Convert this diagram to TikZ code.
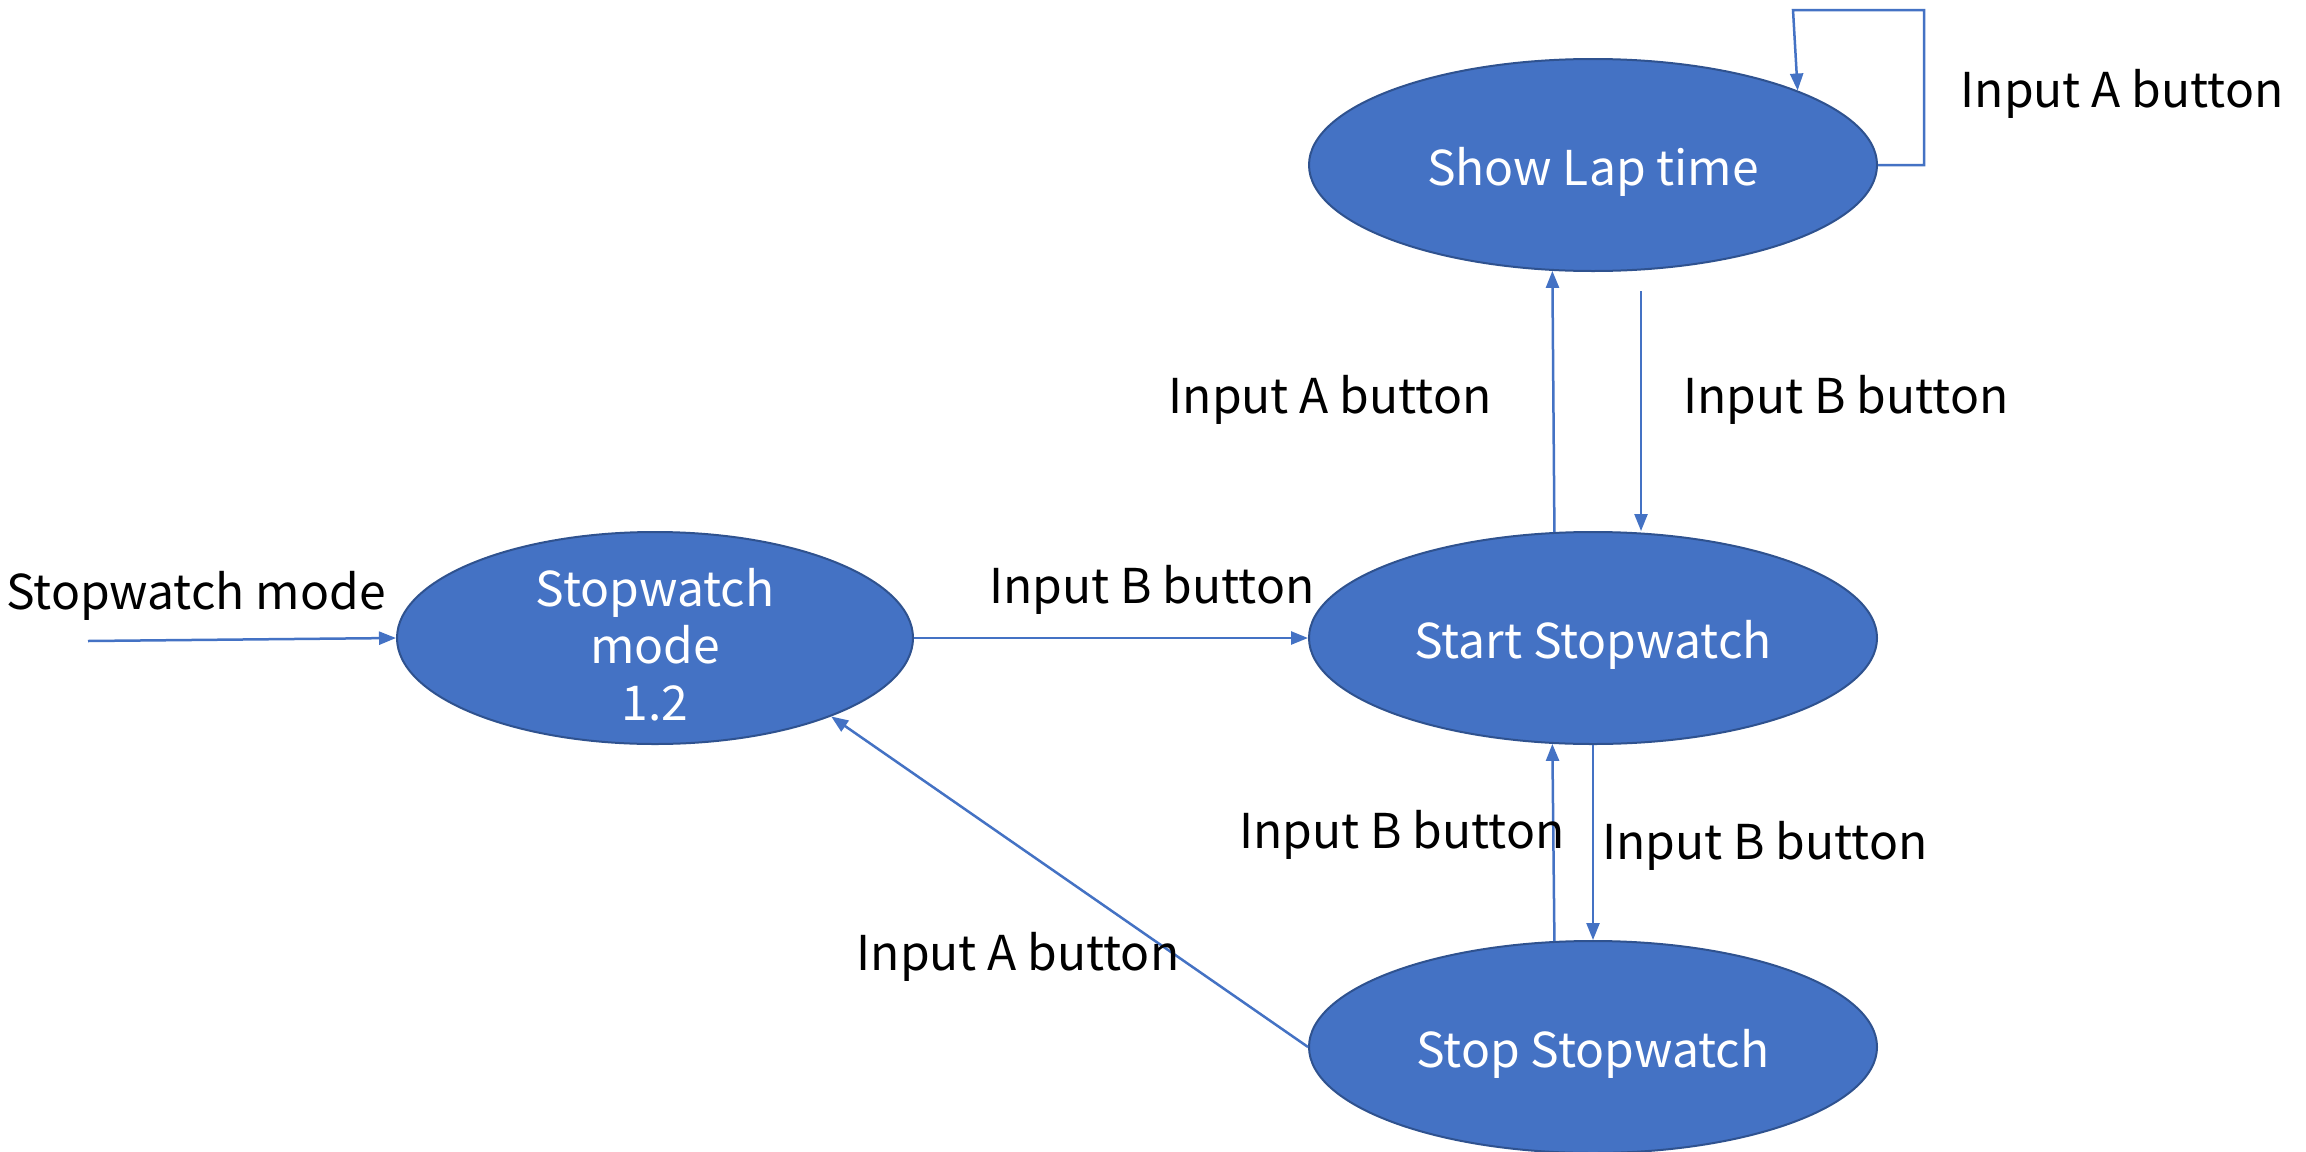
\documentclass[tikz,border=0pt]{standalone}
\usepackage{fontspec}
\setmainfont{Noto Sans CJK KR}
\usetikzlibrary{arrows.meta,shapes.geometric}
\definecolor{fillblue}{HTML}{4472C4}
\definecolor{edgeblue}{HTML}{2F528F}
\tikzset{
  state/.style={ellipse, fill=fillblue, draw=edgeblue, line width=2pt, inner sep=0pt,
                minimum width=568pt, minimum height=212pt},
  statetext/.style={text=white, font=\fontsize{48}{57}\selectfont, align=center, inner sep=0pt},
  lbl/.style={text=black, font=\fontsize{48}{57}\selectfont, inner sep=0pt},
  arr/.style={draw=fillblue, line width=2.5pt, -{Triangle[length=17pt,width=13pt]}},
  plain/.style={draw=fillblue, line width=2.5pt}
}
\begin{document}
\begin{tikzpicture}[x=1pt,y=-1pt]
\useasboundingbox (0,0) rectangle (2306,1151);
\fill[white] (0,0) rectangle (2306,1151);

% states
\node[state] (show) at (1593,165) {};
\node[statetext] (showt) at (1593,172) {Show Lap time};
\node[state] (start) at (1593,638) {};
\node[statetext] (startt) at (1593,645) {Start Stopwatch};
\node[state] (stop) at (1593,1047) {};
\node[statetext] (stopt) at (1593,1054) {Stop Stopwatch};
\node[state, minimum width=516pt] (mode) at (655,638) {};
\node[statetext] (modet) at (655,645) {Stopwatch\\mode\\1.2};

% coordinates for free ends
\coordinate (init) at (88,641);
\coordinate (bs) at (1641,291);
\coordinate (lr) at (1924,10);
\coordinate (ll) at (1793,10);

% connectors
\draw[arr] (init) -- (mode.west);
\draw[arr] (mode.east) -- (start.west);
\draw[arr] (start.110.9) -- (show.249.1);
\draw[arr] (bs) -- (start.north -| bs);
\draw[arr] (stop.110.9) -- (start.249.1);
\draw[arr] (start.south) -- (stop.north);
\draw[arr] (stop.west) -- (mode.336.4);
\draw[arr] (show.east) -| (lr) -- (ll) -- (show.20.6);

% labels
\node[lbl] (l1) at (2122,94) {Input A button};
\node[lbl] (l2) at (1330,400) {Input A button};
\node[lbl] (l3) at (1846,400) {Input B button};
\node[lbl] (l4) at (196,596) {Stopwatch mode};
\node[lbl] (l5) at (1152,590) {Input B button};
\node[lbl] (l6) at (1402,835) {Input B button};
\node[lbl] (l7) at (1765,846) {Input B button};
\node[lbl] (l8) at (1018,957) {Input A button};
\end{tikzpicture}
\end{document}
